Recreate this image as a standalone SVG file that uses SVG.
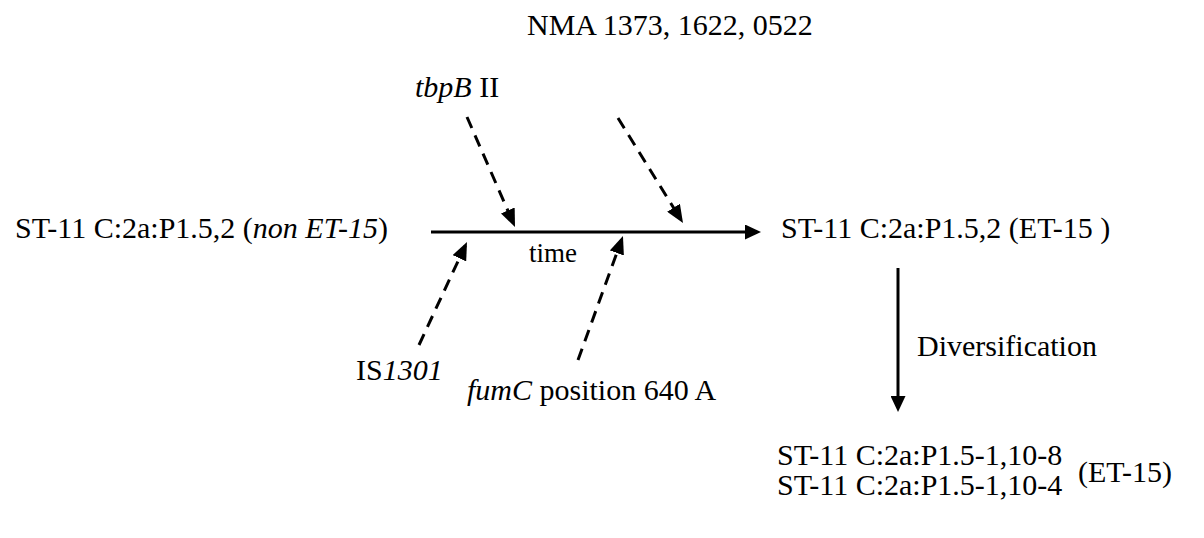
<svg xmlns="http://www.w3.org/2000/svg" width="1204" height="538" viewBox="0 0 1204 538">
<style>
text{font-family:'Liberation Serif','Times New Roman',serif;font-size:30px;fill:#000}
.i{font-style:italic}
.solid{stroke:#000;stroke-width:3;fill:none}
.dash{stroke:#000;stroke-width:3;fill:none;stroke-dasharray:12 8}
</style>
<defs>
<marker id="ah" markerUnits="userSpaceOnUse" markerWidth="17" markerHeight="15" refX="12" refY="7.5" orient="auto" viewBox="0 0 17 15">
<path d="M0,0 L16,7.5 L0,15 Z" fill="#000"/>
</marker>
<marker id="ahd" markerUnits="userSpaceOnUse" markerWidth="19" markerHeight="15" refX="14" refY="7.5" orient="auto" viewBox="0 0 19 15">
<path d="M0,0 L18,7.5 L0,15 Z" fill="#000"/>
</marker>
</defs>
<rect width="1204" height="538" fill="#fff"/>
<g id="connectors">
<line class="solid" x1="431" y1="232" x2="757" y2="232" marker-end="url(#ah)"/>
<line class="dash" x1="467" y1="117" x2="513.4" y2="223.3" marker-end="url(#ahd)"/>
<line class="dash" x1="618" y1="118" x2="680.9" y2="219.6" marker-end="url(#ahd)"/>
<line class="dash" x1="419" y1="345" x2="465.3" y2="245.6" marker-end="url(#ahd)"/>
<line class="dash" x1="578" y1="360" x2="621.6" y2="239.8" marker-end="url(#ahd)"/>
<line class="solid" x1="898" y1="268" x2="898" y2="408" marker-end="url(#ah)"/>
</g>
<g id="node-start"><text x="15" y="238">ST-11 C:2a:P1.5,2 (<tspan class="i">non ET-15</tspan>)</text></g>
<g id="node-end"><text x="781" y="238">ST-11 C:2a:P1.5,2 (ET-15 )</text></g>
<g id="label-time"><text x="553" y="262" text-anchor="middle" style="font-size:27px">time</text></g>
<g id="node-nma"><text x="527" y="35">NMA 1373, 1622, 0522</text></g>
<g id="node-tbpb"><text x="415" y="97"><tspan class="i">tbpB</tspan> II</text></g>
<g id="node-is1301"><text x="356" y="380">IS<tspan class="i">1301</tspan></text></g>
<g id="node-fumc"><text x="467" y="400"><tspan class="i">fumC</tspan> position 640 A</text></g>
<g id="label-div"><text x="917" y="356">Diversification</text></g>
<g id="node-result">
<text x="777" y="465">ST-11 C:2a:P1.5-1,10-8</text>
<text x="777" y="495">ST-11 C:2a:P1.5-1,10-4</text>
<text x="1078" y="482">(ET-15)</text>
</g>
</svg>
